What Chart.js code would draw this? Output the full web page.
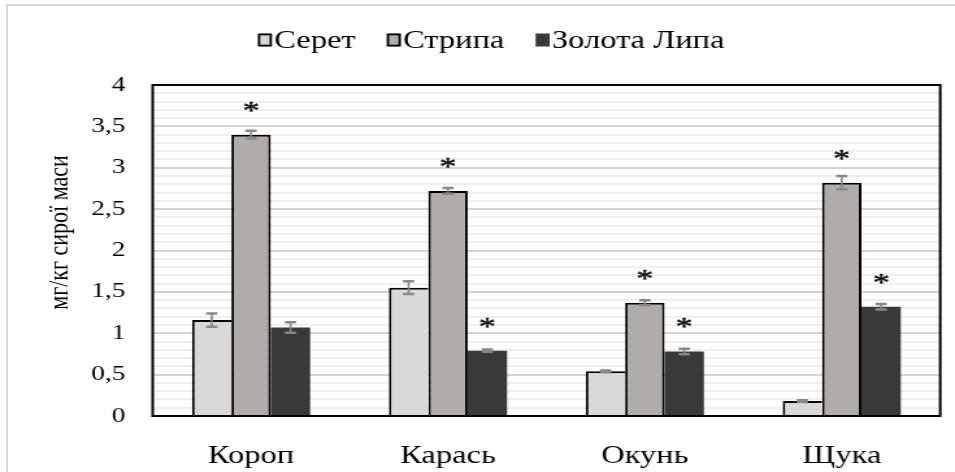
<!DOCTYPE html>
<html>
<head>
<meta charset="utf-8">
<script src="https://cdn.jsdelivr.net/npm/chart.js@4.4.0/dist/chart.umd.min.js"></script>
<style>
  html, body { margin: 0; padding: 0; background: #fff; overflow: hidden; width: 955px; height: 472px; }
  #frame { position: absolute; left: 6px; top: 4px; width: 1000px; height: 500px;
           border-left: 2px solid #d9d9d9; border-top: 2px solid #d9d9d9; }
  /* the chart is laid out narrow and widened horizontally, giving the wide serif lettering */
  #wrap { position: absolute; left: 0; top: 0; width: 735px; height: 472px;
          transform: scaleX(1.2993); transform-origin: 0 0; }
</style>
</head>
<body>
<div id="frame"></div>
<div id="wrap"><canvas id="c"></canvas></div>
<script>
// Fish species and sampling sites
const categories = ['Короп', 'Карась', 'Окунь', 'Щука'];
const seriesNames = ['Серет', 'Стрипа', 'Золота Липа'];

// Mean concentration, mg/kg wet weight
const seretValues = [1.16, 1.55, 0.54, 0.18];
const strypaValues = [3.40, 2.72, 1.37, 2.82];
const zolotaLypaValues = [1.07, 0.79, 0.78, 1.32];

// Standard errors
const seretErrors = [0.08, 0.077, 0.01, 0.01];
const strypaErrors = [0.046, 0.034, 0.028, 0.08];
const zolotaLypaErrors = [0.064, 0.015, 0.034, 0.034];

// Significant difference markers (*)
const seretMarks = [false, false, false, false];
const strypaMarks = [true, true, true, true];
const zolotaLypaMarks = [false, true, true, true];

// Axis text
const yTickLabels = ['0', '0,5', '1', '1,5', '2', '2,5', '3', '3,5', '4'];
const yAxisTitle = 'мг/кг сирої маси';

const SERIF = '"Liberation Serif", "Times New Roman", serif';
const TEXT = '#000';
const isMajor = v => Math.abs(v * 2 - Math.round(v * 2)) < 1e-6;

// Black frame round the plot area
const plotFrame = {
  id: 'plotFrame',
  afterDraw(chart) {
    const { ctx, chartArea: a } = chart;
    ctx.save();
    ctx.strokeStyle = '#000';
    ctx.lineWidth = 2;
    ctx.strokeRect(a.left, a.top, a.right - a.left, a.bottom - a.top);
    ctx.restore();
  }
};

// Error bars with caps
const errorBars = {
  id: 'errorBars',
  afterDatasetsDraw(chart) {
    const { ctx } = chart;
    const y = chart.scales.y;
    ctx.save();
    ctx.strokeStyle = '#878787';
    chart.data.datasets.forEach((ds, di) => {
      chart.getDatasetMeta(di).data.forEach((bar, i) => {
        const v = ds.data[i], e = ds.errors[i];
        const hi = y.getPixelForValue(v + e);
        const lo = y.getPixelForValue(v - e);
        ctx.lineWidth = 1.6;
        ctx.beginPath();
        ctx.moveTo(bar.x, hi); ctx.lineTo(bar.x, lo);
        ctx.stroke();
        ctx.lineWidth = 2.5;
        ctx.beginPath();
        ctx.moveTo(bar.x - 4.3, hi); ctx.lineTo(bar.x + 4.3, hi);
        ctx.moveTo(bar.x - 4.3, lo); ctx.lineTo(bar.x + 4.3, lo);
        ctx.stroke();
      });
    });
    ctx.restore();
  }
};

// Asterisks above bars that differ significantly
const significance = {
  id: 'significance',
  afterDatasetsDraw(chart) {
    const { ctx } = chart;
    ctx.save();
    ctx.font = '26px ' + SERIF;
    ctx.fillStyle = '#111';
    ctx.strokeStyle = '#111';
    ctx.lineWidth = 0.5;
    ctx.textAlign = 'center';
    ctx.textBaseline = 'alphabetic';
    chart.data.datasets.forEach((ds, di) => {
      chart.getDatasetMeta(di).data.forEach((bar, i) => {
        if (ds.marks[i]) {
          ctx.fillText('*', bar.x, bar.y - 16);
          ctx.strokeText('*', bar.x, bar.y - 16);
        }
      });
    });
    ctx.restore();
  }
};

// Legend row above the plot
const legendRow = {
  id: 'legendRow',
  afterDraw(chart) {
    const { ctx } = chart;
    ctx.save();
    ctx.font = '25px ' + SERIF;
    const bw = 10.8, bh = 13, gapText = 1.8, gapItem = 24;
    const items = chart.data.datasets.map(ds => ({ ds, w: ctx.measureText(ds.label).width }));
    const total = items.reduce((s, it) => s + bw + gapText + it.w, 0) + gapItem * (items.length - 1);
    let x = 378 - total / 2;
    items.forEach(it => {
      ctx.fillStyle = it.ds.backgroundColor;
      ctx.fillRect(x, 33.5, bw, bh);
      if (it.ds.legendBorder) {
        ctx.strokeStyle = '#000';
        ctx.lineWidth = 1.8;
        ctx.strokeRect(x + 0.9, 34.4, bw - 1.8, bh - 1.8);
      }
      x += bw + gapText;
      ctx.fillStyle = TEXT;
      ctx.textAlign = 'left';
      ctx.textBaseline = 'alphabetic';
      ctx.fillText(it.ds.label, x, 48);
      x += it.w + gapItem;
    });
    ctx.restore();
  }
};

// Vertical axis title
const yTitle = {
  id: 'yTitle',
  afterDraw(chart) {
    const { ctx } = chart;
    ctx.save();
    ctx.translate(46, 232.5);
    ctx.rotate(-Math.PI / 2);
    ctx.font = '22px ' + SERIF;
    ctx.fillStyle = TEXT;
    ctx.textAlign = 'center';
    ctx.textBaseline = 'middle';
    ctx.fillText(yAxisTitle, 0, 0);
    ctx.restore();
  }
};

new Chart(document.getElementById('c'), {
  type: 'bar',
  data: {
    labels: categories,
    datasets: [
      { label: seriesNames[0], data: seretValues, errors: seretErrors, marks: seretMarks,
        backgroundColor: '#d9d9d9', borderColor: '#000',
        borderWidth: { top: 2, left: 2, right: 0, bottom: 0 }, legendBorder: true },
      { label: seriesNames[1], data: strypaValues, errors: strypaErrors, marks: strypaMarks,
        backgroundColor: '#b0acaa', borderColor: '#000',
        borderWidth: { top: 2, left: 2, right: 2, bottom: 0 }, legendBorder: true },
      { label: seriesNames[2], data: zolotaLypaValues, errors: zolotaLypaErrors, marks: zolotaLypaMarks,
        backgroundColor: '#3a3938', borderWidth: 0, legendBorder: false }
    ]
  },
  options: {
    responsive: true,
    maintainAspectRatio: false,
    animation: false,
    devicePixelRatio: 1,
    layout: { padding: { left: 0, right: 11.4, top: 85, bottom: 0 } },
    datasets: { bar: { categoryPercentage: 0.6, barPercentage: 1.0, borderSkipped: 'start', inflateAmount: 0 } },
    plugins: { legend: { display: false }, tooltip: { enabled: false } },
    scales: {
      x: {
        grid: { display: false },
        border: { display: false },
        ticks: { font: { family: SERIF, size: 25 }, color: TEXT, padding: 17, maxRotation: 0 },
        afterFit(s) { s.height = 56; }
      },
      y: {
        min: 0, max: 4,
        border: { display: false },
        grid: {
          drawTicks: false,
          lineWidth: 2,
          color: c => (c.tick && isMajor(c.tick.value)) ? '#d4d4d4' : '#efefef'
        },
        ticks: {
          stepSize: 0.1, autoSkip: false, padding: 21,
          font: { family: SERIF, size: 21 }, color: TEXT,
          callback: v => isMajor(v) ? yTickLabels[Math.round(v * 2)] : ''
        },
        afterFit(s) { s.width = 117.5; }
      }
    }
  },
  plugins: [errorBars, significance, plotFrame, legendRow, yTitle]
});
</script>
</body>
</html>
